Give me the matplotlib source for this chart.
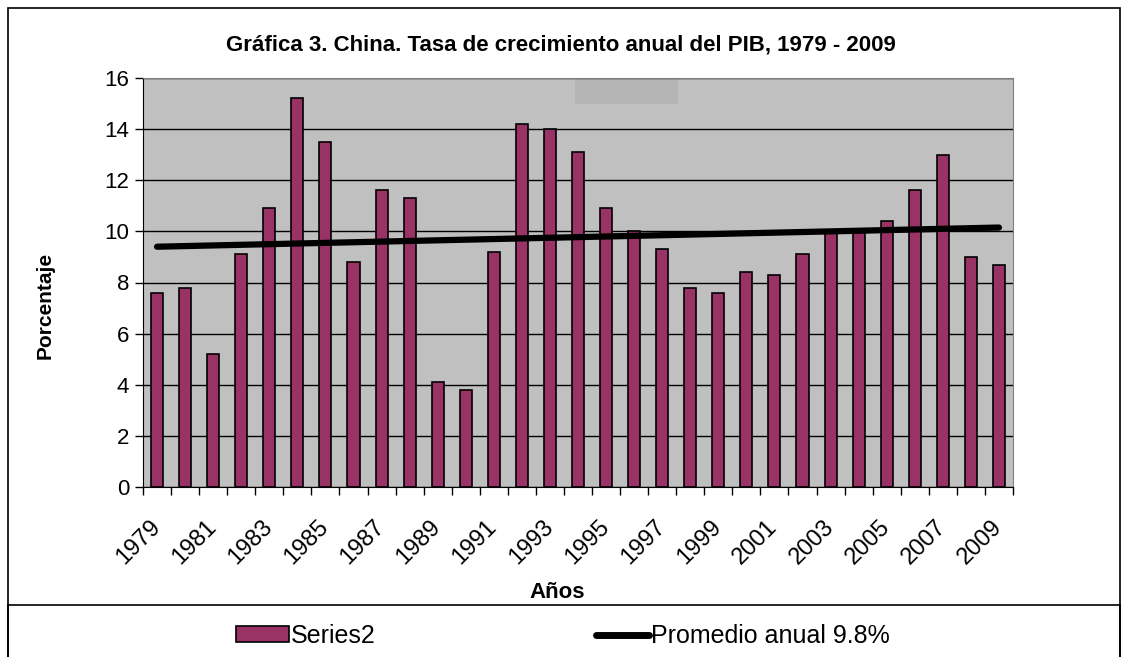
import numpy as np
import matplotlib
matplotlib.use("Agg")
import matplotlib.pyplot as plt
from matplotlib.patches import Rectangle, Patch
from matplotlib.lines import Line2D
from matplotlib.transforms import ScaledTranslation

plt.rcParams['font.family'] = ['Liberation Sans', 'DejaVu Sans']

# datos
years = list(range(1979, 2010))
pib = [7.6, 7.8, 5.2, 9.1, 10.9, 15.2, 13.5, 8.8, 11.6, 11.3, 4.1, 3.8, 9.2,
       14.2, 14.0, 13.1, 10.9, 10.0, 9.3, 7.8, 7.6, 8.4, 8.3, 9.1, 10.0, 10.1,
       10.4, 11.6, 13.0, 9.0, 8.7]
trend_years = [1979, 2009]
trend_vals = [9.4, 10.15]
tick_years = years[::2]

fig = plt.figure(figsize=(11.28, 6.57), dpi=100)
W, H = 1128, 657
ax = fig.add_axes([143 / W, 1 - 487 / H, (1013 - 143) / W, (487 - 78) / H])
ax.set_facecolor('#C0C0C0')

ax.bar(years, pib, width=0.43, color='#993366', edgecolor='black', linewidth=1.2, zorder=3)
ax.plot(trend_years, trend_vals, color='black', lw=4.5, solid_capstyle='round', zorder=4)

# mancha gris en la parte superior
ax.add_patch(Rectangle((1993.9, 14.98), 3.65, 1.02, color='#B5B5B5', zorder=1, lw=0))

ax.set_xlim(1978.5, 2009.5)
ax.set_ylim(0, 16)
ax.set_yticks(range(0, 17, 2))
ax.set_xticks(tick_years)
ax.set_xticks(np.arange(1978.5, 2010, 1), minor=True)
ax.tick_params(axis='x', which='major', length=0, labelsize=17, pad=21)
ax.tick_params(axis='x', which='minor', length=6, width=1)
ax.tick_params(axis='y', length=6, width=1, labelsize=16, pad=4)
plt.setp(ax.get_xticklabels(), rotation=45, ha='right', va='top', rotation_mode='anchor')
offset = ScaledTranslation(-8 / 100, 0, fig.dpi_scale_trans)
for lbl in ax.get_xticklabels():
    lbl.set_transform(lbl.get_transform() + offset)
ax.grid(axis='y', color='black', lw=1, zorder=2)
for s in ['top', 'right']:
    ax.spines[s].set_color('#808080')
for s in ['left', 'bottom']:
    ax.spines[s].set_color('black')

ax.set_ylabel('Porcentaje', fontsize=15, fontweight='bold', va='center')
ax.yaxis.set_label_coords(-0.113, 0.443)
fig.text(557 / W, 1 - 592 / H, 'Años', fontsize=16, fontweight='bold', ha='center', va='center')
fig.text(561 / W, 1 - 45 / H, 'Gráfica 3. China. Tasa de crecimiento anual del PIB, 1979 - 2009',
         fontsize=16, fontweight='bold', ha='center', va='center')

# marcos
fig.add_artist(Rectangle((8 / W, -0.01), 1112 / W, 1 - 8 / H + 0.01, transform=fig.transFigure,
                         fill=False, ec='black', lw=1.2))
fig.add_artist(Rectangle((8 / W, -0.01), 1112 / W, (657 - 605) / H + 0.01, transform=fig.transFigure,
                         fill=False, ec='black', lw=1.2))

handles = [Patch(facecolor='#993366', edgecolor='black', lw=1.2),
           Line2D([0], [0], color='black', lw=5, solid_capstyle='round')]
fig.legend(handles, ['Series2', 'Promedio anual 9.8%'], loc='center',
           bbox_to_anchor=(563 / W, 1 - 636 / H), ncol=2, frameon=False,
           fontsize=18, handlelength=2.1, handleheight=0.6, handletextpad=0.1,
           columnspacing=8.8)

plt.savefig('out.png', dpi=100)
